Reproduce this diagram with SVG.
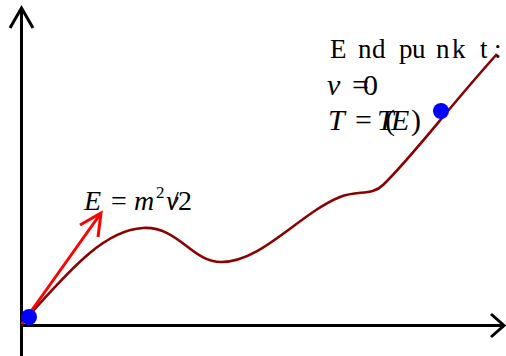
<svg xmlns="http://www.w3.org/2000/svg" width="506" height="356" viewBox="0 0 506 356">
<style>
.axis{stroke:#000;stroke-width:3;fill:none}
.curve{stroke:#8B0000;stroke-width:2.6;fill:none}
.vec{stroke:#FF0000;stroke-width:3;fill:none}
.dot{fill:#0000FF}
text{font-family:'Liberation Serif','Times New Roman',serif;fill:#000}
.i{font-style:italic}
</style>
<rect width="506" height="356" fill="#fff"/>
<g id="axes">
<path class="axis" d="M21.5,356 V8 M10,28 L21.5,8 L33,28"/>
<path class="axis" d="M21,325.5 H504 M491,314 L504,325.5 L491,337"/>
</g>
<g id="connectors">
<path class="curve" d="M22,323 C60,282 100,230 143,228 C178,226 192,262 221,262 C262,262 300,213 340,197 C358,190 372,196 383,185 C412,157 445,112 497,54"/>
<path class="vec" d="M22,324 L101,213 M80,225 L101,213 L98,237"/>
</g>
<g id="start"><circle class="dot" cx="29" cy="317" r="8"/></g>
<g id="end"><circle class="dot" cx="441" cy="111" r="8"/></g>
<g id="energy">
<text font-size="28" y="210"><tspan class="i" x="84">E</tspan><tspan x="111">=</tspan><tspan class="i" x="134">m</tspan><tspan class="i" x="166">v</tspan><tspan x="171">/</tspan><tspan x="178">2</tspan></text>
<text font-size="17" x="156" y="198">2</text>
</g>
<g id="endpunkt">
<text font-size="27" y="58"><tspan x="330">E</tspan><tspan x="358">n</tspan><tspan x="372">d</tspan><tspan x="399">p</tspan><tspan x="412">u</tspan><tspan x="436">n</tspan><tspan x="452">k</tspan><tspan x="480">t</tspan><tspan x="494">:</tspan></text>
<text font-size="30" y="95"><tspan class="i" x="327">v</tspan><tspan x="352">=</tspan><tspan x="363">0</tspan></text>
<text font-size="30" y="130"><tspan class="i" x="328">T</tspan><tspan x="355">=</tspan><tspan class="i" x="377">T</tspan><tspan x="385">(</tspan><tspan class="i" x="391">E</tspan><tspan x="411">)</tspan></text>
</g>
</svg>
